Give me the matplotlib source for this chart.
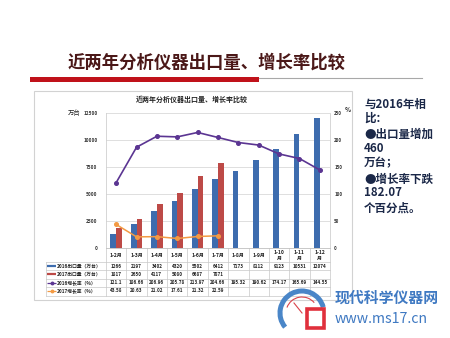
import matplotlib
matplotlib.use("Agg")
import matplotlib.pyplot as plt
from matplotlib.patches import Rectangle, Arc
from matplotlib.transforms import blended_transform_factory
import numpy as np

plt.rcParams['font.family'] = ['Noto Sans CJK SC', 'DejaVu Sans']

# ---- data ----
months = ['1-2月', '1-3月', '1-4月', '1-5月', '1-6月', '1-7月',
          '1-8月', '1-9月', '1-10\n月', '1-11\n月', '1-12\n月']
export_2016 = [1266, 2197, 3402, 4320, 5502, 6412, 7173, 8112, 9123, 10531, 12074]
export_2017 = [1817, 2650, 4117, 5080, 6687, 7871]
growth_2016 = [121.1, 186.66, 206.96, 205.78, 213.97, 204.66, 195.32, 190.62, 174.17, 165.69, 144.55]
growth_2017 = [43.58, 20.63, 21.02, 17.61, 21.32, 22.59]
left_ticks = [0, 2500, 5000, 7500, 10000, 12500]
right_ticks = [0, 50, 100, 150, 200, 250]
row_labels = ['2016出口量（万台）', '2017出口量（万台）', '2016增长率（%）', '2017增长率（%）']
growth_2016_text = ['121.1', '186.66', '206.96', '205.78', '213.97', '204.66',
                    '195.32', '190.62', '174.17', '165.69', '144.55']

C_BLUE = '#3d6cae'
C_RED = '#bd4a47'
C_PURPLE = '#5b3592'
C_ORANGE = '#f39a43'

W, H = 450, 338
fig = plt.figure(figsize=(4.5, 3.38), dpi=100)
fig.patch.set_facecolor('white')

# background layer in pixel units
bg = fig.add_axes([0, 0, 1, 1], zorder=0)
bg.set_xlim(0, W)
bg.set_ylim(H, 0)
bg.axis('off')

bg.text(68, 63, '近两年分析仪器出口量、增长率比较', fontsize=12.5, weight='bold',
        color='#4b1818', ha='left', va='center')
bg.add_patch(Rectangle((30, 77), 229, 4.5, color='#c0121a', lw=0))
bg.plot([259, 422], [78, 78], color='#a8a8a8', lw=0.8)

bg.add_patch(Rectangle((34, 91), 318, 209, facecolor='white', edgecolor='#d2d2d2', lw=0.8))
bg.text(192, 99, '近两年分析仪器出口量、增长率比较', fontsize=5, weight='bold',
        color='#222222', ha='center', va='center')
bg.text(74, 113, '万台', fontsize=4.6, style='italic', color='#222222', ha='center', va='center')
bg.text(347.5, 110, '%', fontsize=4.5, weight='bold', color='#222222', ha='center', va='center')

side_lines = [('与2016年相', 104), ('比：', 118), ('●出口量增加', 134), ('460', 149),
              ('万台；', 163), ('●增长率下跌', 179), ('182.07', 193), ('个百分点。', 208)]
for txt, yy in side_lines:
    bg.text(364, yy, txt, fontsize=8.3, weight='bold', color='#1b2848',
            ha='left', va='center')

# ---- main chart ----
ax = fig.add_axes([106 / W, 1 - 248 / H, 224 / W, 135 / H], zorder=2)
ax.set_facecolor('none')
x = np.arange(len(months))
x17 = np.arange(len(export_2017))
ax.bar(x - 0.14, export_2016, width=0.28, color=C_BLUE, zorder=3)
ax.bar(x17 + 0.14, export_2017, width=0.28, color=C_RED, zorder=3)
ax.set_xlim(-0.5, len(months) - 0.5)
ax.set_ylim(0, 12500)
ax.set_yticks(left_ticks)
ax.set_xticks([])
ax.yaxis.grid(True, color='#d9d9d9', lw=0.6)
ax.set_axisbelow(True)
ax.tick_params(axis='y', length=0, labelsize=3.4, pad=6, labelcolor='#333333')
for lbl in ax.get_yticklabels():
    lbl.set_fontweight('bold')
ax.spines['top'].set_visible(False)
for s in ['left', 'right']:
    ax.spines[s].set_color('#d0d0d0')
    ax.spines[s].set_linewidth(0.6)
ax.spines['bottom'].set_color('#bfbfbf')
ax.spines['bottom'].set_linewidth(0.6)

ax2 = ax.twinx()
ax2.set_ylim(0, 250)
ax2.set_yticks(right_ticks)
ax2.tick_params(axis='y', length=0, labelsize=3.2, pad=3, labelcolor='#333333')
for lbl in ax2.get_yticklabels():
    lbl.set_fontweight('bold')
for s in ax2.spines.values():
    s.set_visible(False)
ax2.plot(x, growth_2016, color=C_PURPLE, lw=1.2, marker='o', ms=2.6, zorder=4)
ax2.plot(x17, growth_2017, color=C_ORANGE, lw=1.1, marker='o', ms=2.6, zorder=4)

# ---- data table under the plot ----
def ya(ypx):
    return (248 - ypx) / 135.0

def xa(xpx):
    return (xpx - 106) / 224.0

tr = blended_transform_factory(ax.transData, ax.transAxes)
grid_c = '#c8c8c8'
row_edges = [262, 270, 278.5, 287, 295.5]
row_centers = [266, 274, 283, 291]

for i in range(len(months) + 1):
    ax.plot([i - 0.5, i - 0.5], [0, ya(295.5)], transform=tr, color=grid_c,
            lw=0.5, clip_on=False)
ax.plot([xa(46), xa(46)], [ya(262), ya(295.5)], transform=ax.transAxes,
        color=grid_c, lw=0.5, clip_on=False)
for e in row_edges:
    ax.plot([xa(46), 1], [ya(e), ya(e)], transform=ax.transAxes, color=grid_c,
            lw=0.5, clip_on=False)

for i, m in enumerate(months):
    ax.text(i, ya(255.5), m, transform=tr, fontsize=3.6, weight='bold',
            ha='center', va='center', color='#222222', linespacing=1.3, clip_on=False)

rows = [
    [str(v) for v in export_2016],
    [str(v) for v in export_2017],
    growth_2016_text,
    [f'{v:.2f}' for v in growth_2017],
]
for vals, yc in zip(rows, row_centers):
    for i, v in enumerate(vals):
        ax.text(i, ya(yc), v, transform=tr, fontsize=3.3, weight='bold',
                ha='center', va='center', color='#222222', clip_on=False)

sw_styles = [
    dict(color=C_BLUE, lw=1.6, marker=None),
    dict(color=C_RED, lw=1.6, marker=None),
    dict(color=C_PURPLE, lw=0.9, marker='o'),
    dict(color=C_ORANGE, lw=0.9, marker='o'),
]
for lab, yc, st in zip(row_labels, row_centers, sw_styles):
    ax.plot([xa(47), xa(56)], [ya(yc), ya(yc)], transform=ax.transAxes,
            color=st['color'], lw=st['lw'], clip_on=False, solid_capstyle='butt')
    if st['marker']:
        ax.plot([xa(51.5)], [ya(yc)], transform=ax.transAxes, color=st['color'],
                marker='o', ms=1.8, clip_on=False)
    ax.text(xa(57), ya(yc), lab, transform=ax.transAxes, fontsize=3.4, weight='bold',
            ha='left', va='center', color='#222222', clip_on=False)

# ---- foreground: site mark ----
fg = fig.add_axes([0, 0, 1, 1], zorder=10)
fg.set_xlim(0, W)
fg.set_ylim(H, 0)
fg.axis('off')
fg.set_facecolor('none')
fg.add_patch(Arc((302, 313), 44, 44, theta1=140, theta2=345, color='#4a86c8', lw=3.6))
fg.add_patch(Arc((302, 313), 32, 32, theta1=200, theta2=320, color='#d9424a', lw=0.8))
fg.plot([302, 294], [313, 303], color='#d9424a', lw=0.8)
fg.add_patch(Rectangle((307, 309), 17, 19, facecolor='white', edgecolor='#e0303c', lw=2.6))
fg.text(335, 298, '现代科学仪器网', fontsize=10.7, weight='bold', color='#3f79c2',
        ha='left', va='center')
fg.text(335, 319, 'www.ms17.cn', fontsize=10.2, color='#3f79c2', ha='left', va='center')

fig.savefig('out.png', dpi=100, facecolor='white')
